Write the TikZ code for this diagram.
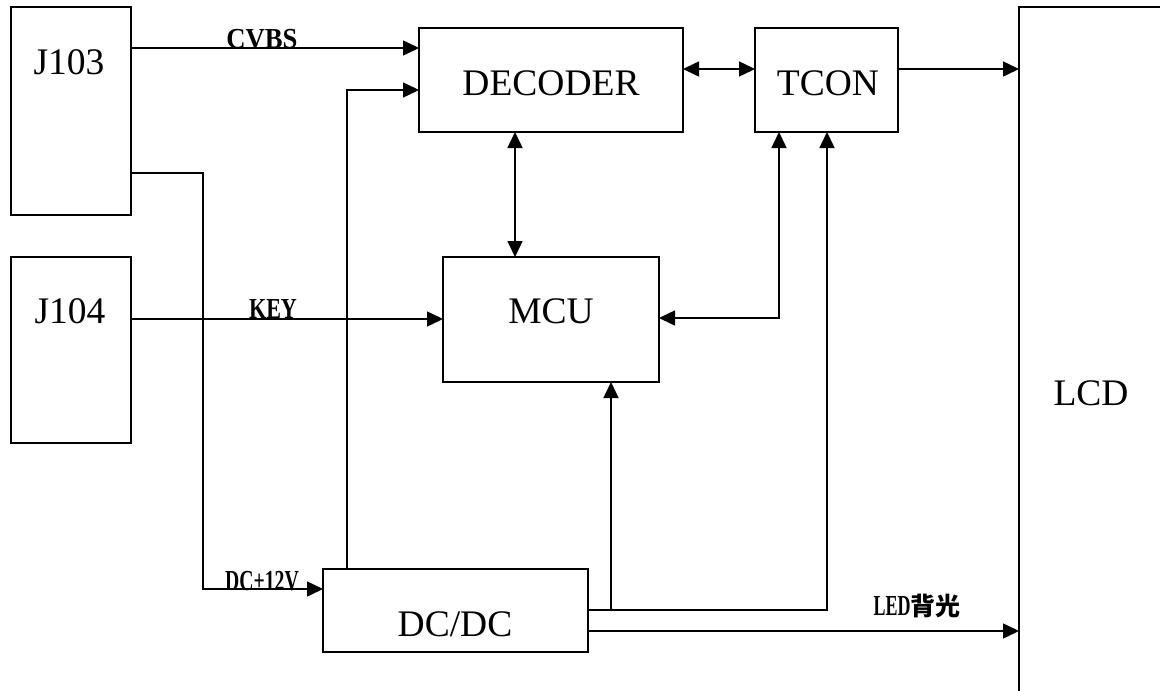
\documentclass[tikz,border=0pt]{standalone}
\usepackage{fontspec}
\setmainfont{Liberation Serif}
\newfontfamily\lblfont{Liberation Serif}
\newfontfamily\cjkfont{Noto Sans CJK SC}
\usetikzlibrary{arrows.meta}
\tikzset{
  blk/.style={draw, line width=1.8pt, inner sep=0pt, outer sep=0pt},
  big/.style={font=\fontsize{37.5}{40}\selectfont, inner sep=0pt, anchor=base},
  sig/.style={font=\lblfont\bfseries\fontsize{29}{31}\selectfont, inner sep=0pt, anchor=base},
  conn/.style={line width=1.5pt},
  tip/.tip={Triangle[length=16pt,width=15pt]},
  arr/.style={conn, -tip},
  darr/.style={conn, tip-tip}
}
\begin{document}
\begin{tikzpicture}[x=1pt,y=-1pt]
\useasboundingbox (0,0) rectangle (1160,691);
\clip (0,0) rectangle (1160,691);
% blocks
\node[blk, minimum width=120pt, minimum height=208pt] (j103) at (71,111) {};
\node[blk, minimum width=120pt, minimum height=186pt] (j104) at (71,350) {};
\node[blk, minimum width=264pt, minimum height=104pt] (dec) at (551,80) {};
\node[blk, minimum width=143pt, minimum height=104pt] (tcon) at (826.5,80) {};
\node[blk, minimum width=216pt, minimum height=125pt] (mcu) at (551,319.5) {};
\node[blk, minimum width=265pt, minimum height=83pt] (dcdc) at (455.5,610.5) {};
\node[blk, minimum width=400pt, minimum height=800pt, anchor=north west] (lcd) at (1019,7) {};
% block texts
\node[big] (tj103) at (69,74) {J103};
\node[big] (tj104) at (70,323) {J104};
\node[big] (tdec) at (551,95) {DECODER};
\node[big] (ttcon) at (828,95) {TCON};
\node[big] (tmcu) at (551,323) {MCU};
\node[big] (tdcdc) at (455,636) {DC/DC};
\node[big] (tlcd) at (1091,405) {LCD};
% level coordinates
\coordinate (ycv) at (0,48);
\coordinate (ydec) at (0,90);
\coordinate (xdec) at (347,0);
\coordinate (ypw) at (0,173);
\coordinate (xpw) at (203,0);
\coordinate (ypw2) at (0,589);
\coordinate (ykey) at (0,319);
\coordinate (xdm) at (515,0);
\coordinate (ydt) at (0,69);
\coordinate (xtm) at (779,0);
\coordinate (ytm) at (0,318);
\coordinate (yout) at (0,610);
\coordinate (xmcu) at (611,0);
\coordinate (xtc) at (827,0);
\coordinate (yled) at (0,631);
% connectors
\draw[arr] (j103.east |- ycv) -- (dec.west |- ycv);
\draw[arr] (dcdc.north -| xdec) -- (xdec |- ydec) -- (dec.west |- ydec);
\draw[arr] (j103.east |- ypw) -- (xpw |- ypw) -- (xpw |- ypw2) -- (dcdc.west |- ypw2);
\draw[arr] (j104.east |- ykey) -- (mcu.west |- ykey);
\draw[darr] (dec.south -| xdm) -- (mcu.north -| xdm);
\draw[darr] (dec.east |- ydt) -- (tcon.west |- ydt);
\draw[arr] (tcon.east |- ydt) -- (lcd.west |- ydt);
\draw[darr] (tcon.south -| xtm) -- (xtm |- ytm) -- (mcu.east |- ytm);
\draw[arr] (dcdc.east |- yout) -- (xtc |- yout) -- (tcon.south -| xtc);
\draw[arr] (xmcu |- yout) -- (mcu.south -| xmcu);
\draw[arr] (dcdc.east |- yled) -- (lcd.west |- yled);
% signal labels
\node[sig] (lcv) at (262,48) {\scalebox{0.92}[1]{CVBS}};
\node[sig] (lkey) at (273,318) {\scalebox{0.76}[1]{KEY}};
\node[sig] (lpw) at (262,590) {\scalebox{0.68}[1]{DC+12V}};
\node[sig] (lled) at (917,615) {\scalebox{0.62}[1]{LED}{\cjkfont\bfseries\fontsize{25}{27}\selectfont 背光}};
\end{tikzpicture}
\end{document}
